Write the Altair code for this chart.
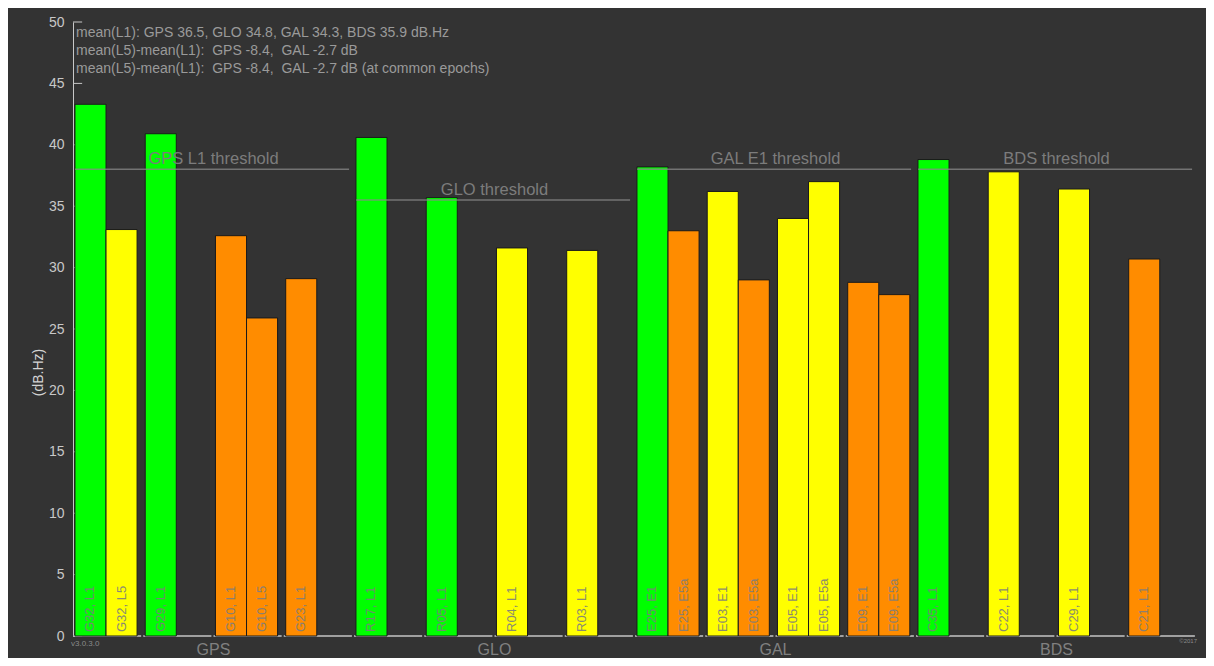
import altair as alt
import pandas as pd

# ---------------- data ----------------
systems = ["GPS", "GLO", "GAL", "BDS"]
sat_ids = ["G32", "G29", "G10", "G23",
           "R17", "R05", "R04", "R03",
           "E25", "E03", "E05", "E09",
           "C35", "C22", "C29", "C21"]
sat_system = ["GPS"] * 4 + ["GLO"] * 4 + ["GAL"] * 4 + ["BDS"] * 4
band1_name = {"GPS": "L1", "GLO": "L1", "GAL": "E1", "BDS": "L1"}
band2_name = {"GPS": "L5", "GAL": "E5a"}

l1_values = [43.3, 40.9, 32.6, 29.1,
             40.6, 35.7, 31.6, 31.4,
             38.2, 36.2, 34.0, 28.8,
             38.8, 37.8, 36.4, 30.7]
l1_colors = ["green", "green", "orange", "orange",
             "green", "green", "yellow", "yellow",
             "green", "yellow", "yellow", "orange",
             "green", "yellow", "yellow", "orange"]
l5_values = [33.1, None, 25.9, None,
             None, None, None, None,
             33.0, 29.0, 37.0, 27.8,
             None, None, None, None]
l5_colors = ["yellow", None, "orange", None,
             None, None, None, None,
             "orange", "orange", "yellow", "orange",
             None, None, None, None]

thresholds = [38.0, 35.5, 38.0, 38.0]
threshold_labels = ["GPS L1 threshold", "GLO threshold", "GAL E1 threshold", "BDS threshold"]

y_ticks = [0, 5, 10, 15, 20, 25, 30, 35, 40, 45, 50]

NB = "\u00a0"
annotation_lines = [
    "mean(L1): GPS 36.5, GLO 34.8, GAL 34.3, BDS 35.9 dB.Hz",
    f"mean(L5)-mean(L1): {NB}GPS -8.4, {NB}GAL -2.7 dB",
    f"mean(L5)-mean(L1): {NB}GPS -8.4, {NB}GAL -2.7 dB (at common epochs)",
]
version_text = "v3.0.3.0"
copyright_text = "\u00a92017"

palette = {"green": "#00ff00", "yellow": "#ffff00", "orange": "#ff8c00"}

# ---------------- tables ----------------
bar_rows = []
for i, sat in enumerate(sat_ids):
    sysname = sat_system[i]
    bar_rows.append(dict(x0=i + 0.028, x1=i + 0.47, xc=i + 0.249, v=l1_values[i], base=0,
                         fill=palette[l1_colors[i]], label=f"{sat}, {band1_name[sysname]}"))
    if l5_values[i] is not None:
        bar_rows.append(dict(x0=i + 0.47, x1=i + 0.912, xc=i + 0.691, v=l5_values[i], base=0,
                             fill=palette[l5_colors[i]], label=f"{sat}, {band2_name[sysname]}"))
bars_df = pd.DataFrame(bar_rows)

base_df = pd.DataFrame([dict(x0=i, x1=i + 0.97, base=0) for i in range(len(sat_ids))])

thr_rows = []
for g, sysname in enumerate(systems):
    idx = [i for i, s in enumerate(sat_system) if s == sysname]
    start, end = min(idx), max(idx) + 1
    thr_rows.append(dict(xs=start + 0.03, xe=end - 0.07, xc=(start + end) / 2,
                         thr=thresholds[g], label=threshold_labels[g], name=sysname, base=0))
thr_df = pd.DataFrame(thr_rows)

ticks_df = pd.DataFrame(dict(t=y_ticks, x0=0, x1=0.13))

n = len(sat_ids)
xscale = alt.Scale(domain=[0, n], nice=False, zero=False)
yscale = alt.Scale(domain=[0, 50], nice=False)
FONT = "Liberation Sans"

yaxis = alt.Axis(values=y_ticks, ticks=False, grid=False,
                 domainColor="#c8c8c8", domainWidth=1,
                 labelColor="#c8c8c8", labelFontSize=14, labelPadding=9, labelFont=FONT,
                 title="(dB.Hz)", titleColor="#d4d4d4", titleFontSize=14, titleFont=FONT,
                 titleFontWeight="normal", titleX=-35, titleY=350, titleAngle=270,
                 titleBaseline="middle", titleAlign="center")


def Y(field):
    return alt.Y(field, scale=yscale, axis=yaxis, title="(dB.Hz)")


def X(field):
    return alt.X(field, scale=xscale, axis=None)


# baseline segments
baseline = alt.Chart(base_df).mark_rule(color="#a0a0a0", strokeWidth=2).encode(
    x=X("x0:Q"), x2="x1:Q", y=Y("base:Q"))

# inward ticks
ticks = alt.Chart(ticks_df).mark_rule(color="#c8c8c8", strokeWidth=1).encode(
    x=X("x0:Q"), x2="x1:Q", y=Y("t:Q"))

bars = alt.Chart(bars_df).mark_bar(stroke="#1a1a1a", strokeWidth=1).encode(
    x=X("x0:Q"), x2="x1:Q", y=Y("v:Q"), y2="base:Q",
    color=alt.Color("fill:N", scale=None))

bar_text = alt.Chart(bars_df).mark_text(angle=270, align="left", baseline="middle", dx=4,
                                        fontSize=13, font=FONT, color="#7e7e7e",
                                        opacity=0.9).encode(
    x=X("xc:Q"), y=Y("base:Q"), text="label:N")

thr_lines = alt.Chart(thr_df).mark_rule(color="#8a8a8a", strokeWidth=1.5, opacity=0.75).encode(
    x=X("xs:Q"), x2="xe:Q", y=Y("thr:Q"))

thr_text = alt.Chart(thr_df).mark_text(align="center", baseline="middle", dy=-10,
                                       fontSize=16.5, font=FONT, color="#7c7c7c").encode(
    x=X("xc:Q"), y=Y("thr:Q"), text="label:N")

group_text = alt.Chart(thr_df).mark_text(align="center", baseline="middle", dy=14,
                                         fontSize=16, font=FONT, color="#808080").encode(
    x=X("xc:Q"), y=Y("base:Q"), text="name:N")

ann_layers = []
for k, line in enumerate(annotation_lines):
    ann_layers.append(
        alt.Chart(pd.DataFrame({"t": [line]})).mark_text(
            align="left", baseline="middle", fontSize=14, font=FONT, color="#9a9a9a").encode(
            x=alt.value(3), y=alt.value(11 + 18 * k), text="t:N"))

version = alt.Chart(pd.DataFrame({"t": [version_text]})).mark_text(
    align="left", baseline="middle", fontSize=8, font=FONT, color="#8a8a8a").encode(
    x=alt.value(-2), y=alt.value(622), text="t:N")
copyright_ = alt.Chart(pd.DataFrame({"t": [copyright_text]})).mark_text(
    align="right", baseline="middle", fontSize=6, font=FONT, color="#8a8a8a").encode(
    x=alt.value(1124), y=alt.value(619), text="t:N")

chart = alt.layer(baseline, ticks, bars, bar_text, thr_lines, thr_text, group_text,
                  *ann_layers, version, copyright_).properties(
    width=1124, height=614,
    autosize=alt.AutoSizeParams(type="none"),
    padding={"left": 65, "top": 14, "right": 9, "bottom": 22},
    background="#333333",
).configure_view(stroke=None)

chart.save("out.html", embed_options={"renderer": "svg", "actions": False})
